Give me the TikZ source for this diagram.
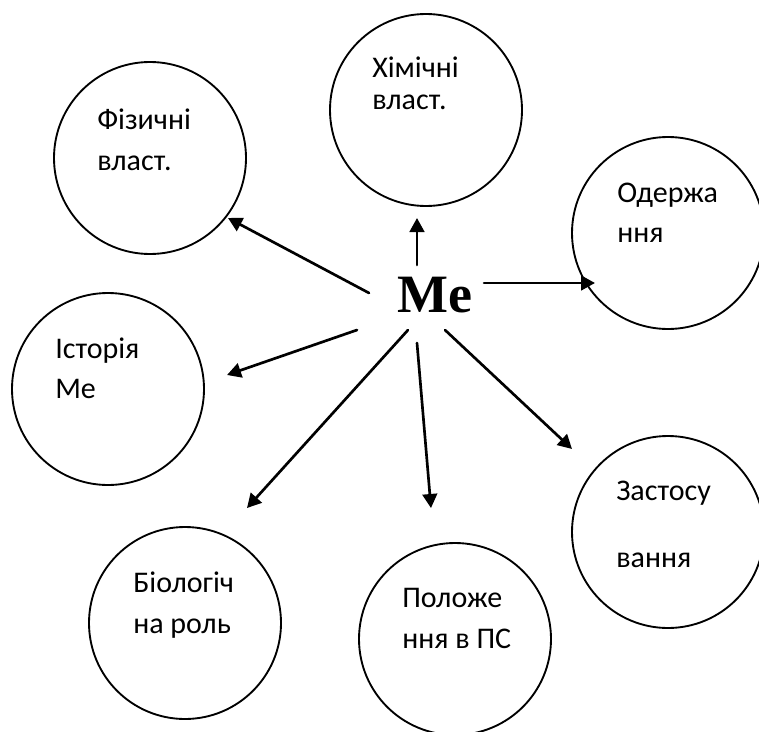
\documentclass[tikz,border=0pt]{standalone}
\usepackage{fontspec}
\setmainfont{Carlito}
\newfontfamily\mefont{Liberation Serif}
\usetikzlibrary{arrows.meta}
\begin{document}
\begin{tikzpicture}[x=0.75pt, y=-0.75pt, line join=round, line cap=round, >={Triangle[length=10.5pt,width=11pt]},
 kolo/.style={draw, circle, line width=1.4pt, minimum size=144pt, inner sep=0pt},
 napys/.style={anchor=base west, inner sep=0pt, font=\fontsize{22.5pt}{26pt}\selectfont},
 strilka/.style={->, line width=2pt}]
 \useasboundingbox (0,0) rectangle (759,731);
 % kola
 \node[kolo] (fiz) at (150,158) {};
 \node[kolo] (khim) at (426,110) {};
 \node[kolo] (oderzh) at (668,233) {};
 \node[kolo] (istor) at (108,389) {};
 \node[kolo] (zastos) at (668,532) {};
 \node[kolo] (biol) at (185,623) {};
 \node[kolo] (polozh) at (455,639) {};
 % napysy
 \node[napys] (fiz1) at (97,129) {Фізичні};
 \node[napys] (fiz2) at (97,170) {власт.};
 \node[napys] (khim1) at (372,78) {Хімічні};
 \node[napys] (khim2) at (372,110) {власт.};
 \node[napys] (oderzh1) at (617,202) {Одержа};
 \node[napys] (oderzh2) at (617,242) {ння};
 \node[napys] (istor1) at (55,358) {Історія};
 \node[napys] (istor2) at (55,398) {Me};
 \node[napys] (zastos1) at (616,500) {Застосу};
 \node[napys] (zastos2) at (616,567) {вання};
 \node[napys] (biol1) at (133,592) {Біологіч};
 \node[napys] (biol2) at (133,633) {на роль};
 \node[napys] (polozh1) at (402,607) {Положе};
 \node[napys] (polozh2) at (402,648) {ння в ПС};
 % centr
 \node[anchor=base west, inner sep=0pt, font=\mefont\bfseries\fontsize{40.5pt}{44pt}\selectfont] (me) at (397,312) {Me};
 % strilky
 \coordinate (s1) at (369,293); \coordinate (t1) at (228,218);
 \coordinate (s2) at (417,265); \coordinate (t2) at (417,218);
 \coordinate (s3) at (484,283); \coordinate (t3) at (595,283);
 \coordinate (s4) at (357,330); \coordinate (t4) at (227,375);
 \coordinate (s5) at (408,330); \coordinate (t5) at (247,508);
 \coordinate (s6) at (417,343); \coordinate (t6) at (431,508);
 \coordinate (s7) at (445,330); \coordinate (t7) at (572,449);
 \foreach \i in {1,...,7}
  \draw[strilka] (s\i)--(t\i);
\end{tikzpicture}
\end{document}
